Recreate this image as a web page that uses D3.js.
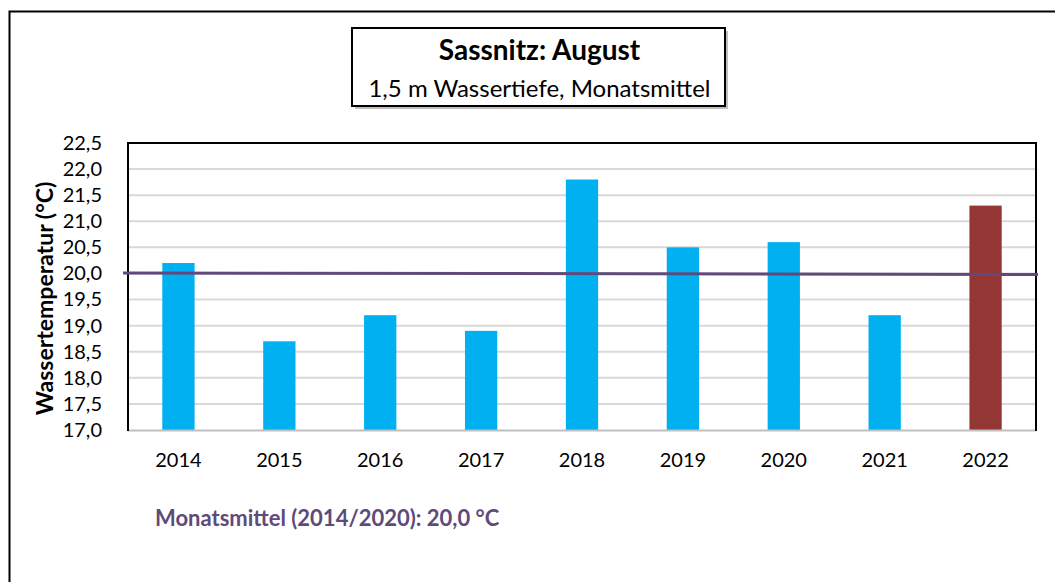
<!DOCTYPE html>
<html>
<head>
<meta charset="utf-8">
<script src="https://cdn.jsdelivr.net/npm/d3@7"></script>
<style>
  body { margin: 0; background: #fff; }
  svg { display: block; font-family: Lato, "Liberation Sans", sans-serif; }
</style>
</head>
<body>
<div id="chart"></div>
<script>
const years = ["2014", "2015", "2016", "2017", "2018", "2019", "2020", "2021", "2022"];
const temps = [20.2, 18.7, 19.2, 18.9, 21.8, 20.5, 20.6, 19.2, 21.3];
const yTicks = [17.0, 17.5, 18.0, 18.5, 19.0, 19.5, 20.0, 20.5, 21.0, 21.5, 22.0, 22.5];
const meanValue = 20.0;
const title = "Sassnitz: August";
const subtitle = "1,5 m Wassertiefe, Monatsmittel";
const yLabel = "Wassertemperatur (°C)";
const meanLabel = "Monatsmittel (2014/2020): 20,0 °C";

const W = 1055, H = 582;
const margin = {top: 143, right: 19, bottom: 152, left: 128};

const fmt = d => d.toFixed(1).replace(".", ",");

const svg = d3.select("#chart").append("svg")
  .attr("width", W)
  .attr("height", H);

// outer frame
svg.append("path")
  .attr("d", `M9.5,${H} V11.5 H${W}`)
  .attr("fill", "none")
  .attr("stroke", "#000")
  .attr("stroke-width", 2);

const x = d3.scaleBand()
  .domain(years)
  .range([margin.left, W - margin.right])
  .paddingInner(0.68)
  .paddingOuter(0.34);

const y = d3.scaleLinear()
  .domain([17, 22.5])
  .range([H - margin.bottom, margin.top]);

// gridlines
svg.append("g")
  .selectAll("line")
  .data(yTicks.slice(1, -1))
  .join("line")
    .attr("x1", margin.left)
    .attr("x2", W - margin.right)
    .attr("y1", d => y(d))
    .attr("y2", d => y(d))
    .attr("stroke", "#d9d9d9")
    .attr("stroke-width", 2);

// bars
svg.append("g")
  .selectAll("rect")
  .data(years.map((yr, i) => ({yr, v: temps[i]})))
  .join("rect")
    .attr("x", d => x(d.yr))
    .attr("y", d => y(d.v))
    .attr("width", x.bandwidth())
    .attr("height", d => y(17) - y(d.v))
    .attr("fill", d => d.yr === "2022" ? "#943634" : "#00b0f0");

// plot frame
svg.append("line")
  .attr("x1", margin.left).attr("x2", W - margin.right)
  .attr("y1", y(17) + 0.5).attr("y2", y(17) + 0.5)
  .attr("stroke", "#bfbfbf").attr("stroke-width", 2);
svg.append("path")
  .attr("d", `M${margin.left},${y(17) + 1} V${margin.top} H${W - margin.right} V${y(17) + 1}`)
  .attr("fill", "none")
  .attr("stroke", "#000")
  .attr("stroke-width", 2);

// mean line
svg.append("line")
  .attr("x1", margin.left - 5)
  .attr("x2", W - margin.right + 2)
  .attr("y1", y(meanValue) - 0.5)
  .attr("y2", y(meanValue) + 1)
  .attr("stroke", "#604a7b")
  .attr("stroke-width", 3);

// y axis
const yAxis = d3.axisLeft(y).tickValues(yTicks).tickFormat(fmt).tickSize(0).tickPadding(26);
svg.append("g")
  .attr("transform", `translate(${margin.left}, 0)`)
  .call(yAxis)
  .call(g => g.select(".domain").remove())
  .call(g => g.selectAll("text").attr("font-size", 20).attr("fill", "#000").attr("font-family", "Lato"));

// x axis
const xAxis = d3.axisBottom(x).tickSize(0).tickPadding(23);
svg.append("g")
  .attr("transform", `translate(0, ${y(17)})`)
  .call(xAxis)
  .call(g => g.select(".domain").remove())
  .call(g => g.selectAll("text").attr("font-size", 20).attr("fill", "#000").attr("font-family", "Lato"));

// y label
svg.append("text")
  .text(yLabel)
  .attr("transform", `translate(53, ${(margin.top + y(17)) / 2 + 12}) rotate(-90)`)
  .attr("text-anchor", "middle")
  .attr("font-weight", "bold")
  .attr("font-size", 23);

// title box
const tb = {x: 352, y: 28, w: 373, h: 78};
svg.append("rect")
  .attr("x", tb.x + 3).attr("y", tb.y + 3)
  .attr("width", tb.w).attr("height", tb.h)
  .attr("fill", "#bfbfbf");
svg.append("rect")
  .attr("x", tb.x).attr("y", tb.y)
  .attr("width", tb.w).attr("height", tb.h)
  .attr("fill", "#fff")
  .attr("stroke", "#000")
  .attr("stroke-width", 2);
svg.append("text")
  .text(title)
  .attr("x", tb.x + tb.w / 2 + 1).attr("y", 60)
  .attr("text-anchor", "middle")
  .attr("font-weight", "bold")
  .attr("font-size", 28);
svg.append("text")
  .text(subtitle)
  .attr("x", tb.x + tb.w / 2 + 1).attr("y", 97)
  .attr("text-anchor", "middle")
  .attr("font-size", 24);

// mean annotation
svg.append("text")
  .text(meanLabel)
  .attr("x", 155).attr("y", 526)
  .attr("font-weight", "bold")
  .attr("font-size", 22)
  .attr("fill", "#604a7b");
</script>
</body>
</html>
